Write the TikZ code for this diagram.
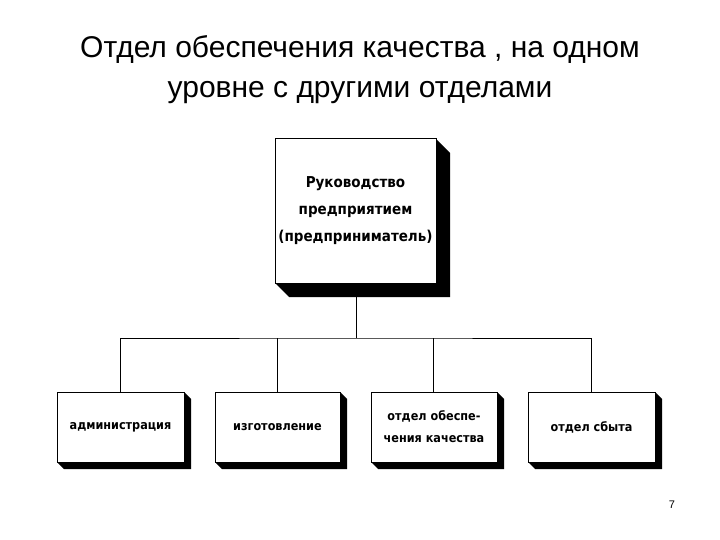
\documentclass[tikz,border=0pt]{standalone}
\usepackage{fontspec}
\setmainfont{Liberation Sans}
\newfontfamily\boxfont{DejaVu Sans Condensed}
\begin{document}
\begin{tikzpicture}[x=1pt,y=-1pt,
  bx/.style={draw,line width=1pt,fill=white,inner sep=0pt,font=\boxfont\bfseries\fontsize{12.5}{22}\selectfont,align=center},
  ln/.style={line width=0.8pt}]
\useasboundingbox (0,0) rectangle (720,540);
\node[font=\fontsize{30}{40}\selectfont,align=center] (title) at (360,70) {Отдел обеспечения качества , на одном\\уровне с другими отделами};
\newcommand\shbox[6]{%
  \fill (#3,#2) -- (#3+#6,#2+#6) -- (#3+#6,#4+#6) -- (#1+#6,#4+#6) -- (#1,#4) -- cycle;
  \node[bx,minimum width=#3-#1,minimum height=#4-#2] (#5) at ({(#1+#3)/2},{(#2+#4)/2}) {};}
\shbox{275}{139}{436}{283}{top}{14}
\node[font=\boxfont\bfseries\fontsize{15}{27}\selectfont,align=center] (toptext) at (top.center) {Руководство\\предприятием\\(предприниматель)};
\shbox{57}{392}{184}{462}{b1}{7}
\shbox{215}{392}{340}{462}{b2}{7}
\shbox{371}{392}{497}{462}{b3}{7}
\shbox{528}{392}{655}{462}{b4}{7}
\node[bx,draw=none,fill=none] (t1) at (b1.center) {администрация};
\node[bx,draw=none,fill=none] (t2) at (b2.center) {изготовление};
\node[bx,draw=none,fill=none] (t3) at (b3.center) {отдел обеспе-\\чения качества};
\node[bx,draw=none,fill=none] (t4) at (b4.center) {отдел сбыта};
\coordinate (j) at (356,338);
\draw[ln] (top.south -| j) -- (j);
\draw[ln] (b1.north) |- (j) -| (b4.north);
\draw[ln] (b2.north) -- (b2.north |- j);
\draw[ln] (b3.north -| 433,0) -- (433,338);
\node[font=\fontsize{11}{13}\selectfont] (pg) at (672,505) {7};
\end{tikzpicture}
\end{document}
